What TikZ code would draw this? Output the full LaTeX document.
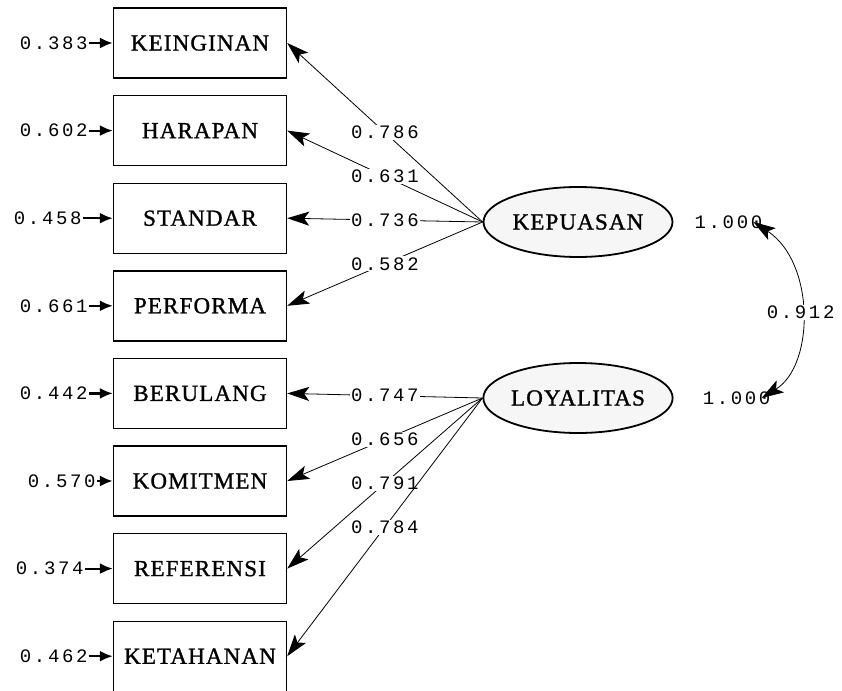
\documentclass[tikz,border=0pt]{standalone}
\usepackage{fontspec}
\setmainfont{Liberation Serif}
\newfontfamily\boxfont[LetterSpace=5,FakeBold=1.2]{Liberation Serif}
\newfontfamily\numfont[LetterSpace=14]{Liberation Mono}
\usetikzlibrary{arrows.meta,positioning,shapes.geometric}

\begin{document}
\begin{tikzpicture}[x=1pt,y=-1pt,
    ind/.style={draw,line width=1.4pt,minimum width=173pt,minimum height=70pt,inner sep=0pt,font=\boxfont\fontsize{23}{23}\selectfont},
    lat/.style={draw,ellipse,line width=1.8pt,fill=gray!7,minimum width=189pt,minimum height=70pt,inner sep=0pt,font=\boxfont\fontsize{23}{23}\selectfont},
    num/.style={font=\numfont\fontsize{19}{19}\selectfont,inner sep=1pt},
    load/.style={num,fill=white,pos=0.5},
    errarrow/.style={line width=2.2pt,-{Latex[length=13pt,width=11pt]}},
    lod/.style={line width=0.8pt,-{Stealth[length=22pt,width=14pt,inset=5pt]}},
    cov/.style={line width=0.8pt,{Stealth[length=22pt,width=14pt,inset=5pt]}-{Stealth[length=22pt,width=14pt,inset=5pt]}}]
  \useasboundingbox (0,0) rectangle (842,690);

  % indicators
  \node[ind] (keinginan) at (200,43) {KEINGINAN}; \node[ind] (harapan) at (200,130.6) {HARAPAN}; \node[ind] (standar) at (200,218.2) {STANDAR}; \node[ind] (performa) at (200,305.8) {PERFORMA};
  \node[ind] (berulang) at (200,393.4) {BERULANG}; \node[ind] (komitmen) at (200,481) {KOMITMEN}; \node[ind] (referensi) at (200,568.6) {REFERENSI}; \node[ind] (ketahanan) at (200,656.2) {KETAHANAN};

  % error variances
  \node[num,left=24pt of keinginan] (e1) {0.383}; \node[num,left=24pt of harapan] (e2) {0.602}; \node[num,left=30pt of standar] (e3) {0.458}; \node[num,left=24pt of performa] (e4) {0.661};
  \node[num,left=24pt of berulang] (e5) {0.442}; \node[num,left=16pt of komitmen] (e6) {0.570}; \node[num,left=28pt of referensi] (e7) {0.374}; \node[num,left=24pt of ketahanan] (e8) {0.462};
  \foreach \e/\b in {e1/keinginan,e2/harapan,e3/standar,e4/performa,e5/berulang,e6/komitmen,e7/referensi,e8/ketahanan}
    \draw[errarrow] (\e) -- (\b);

  % latent variables
  \node[lat] (kepuasan) at (578,222) {KEPUASAN};
  \node[lat] (loyalitas) at (578,398) {LOYALITAS};
  \node[num,right=20pt of kepuasan] (v1) {1.000};
  \node[num,right=28pt of loyalitas] (v2) {1.000};

  % loadings
  \draw[lod] (kepuasan.west) -- (keinginan.east) node[load] {0.786};
  \draw[lod] (kepuasan.west) -- (harapan.east) node[load] {0.631};
  \draw[lod] (kepuasan.west) -- (standar.east) node[load] {0.736};
  \draw[lod] (kepuasan.west) -- (performa.east) node[load] {0.582};
  \draw[lod] (loyalitas.west) -- (berulang.east) node[load] {0.747};
  \draw[lod] (loyalitas.west) -- (komitmen.east) node[load] {0.656};
  \draw[lod] (loyalitas.west) -- (referensi.east) node[load] {0.791};
  \draw[lod] (loyalitas.west) -- (ketahanan.east) node[load] {0.784};

  % correlation
  \draw[cov] ([xshift=-10pt]v1.east) .. controls (815,262) and (815,365) .. ([xshift=-10pt]v2.east) node[num,fill=white,pos=0.5] {0.912};
\end{tikzpicture}
\end{document}
